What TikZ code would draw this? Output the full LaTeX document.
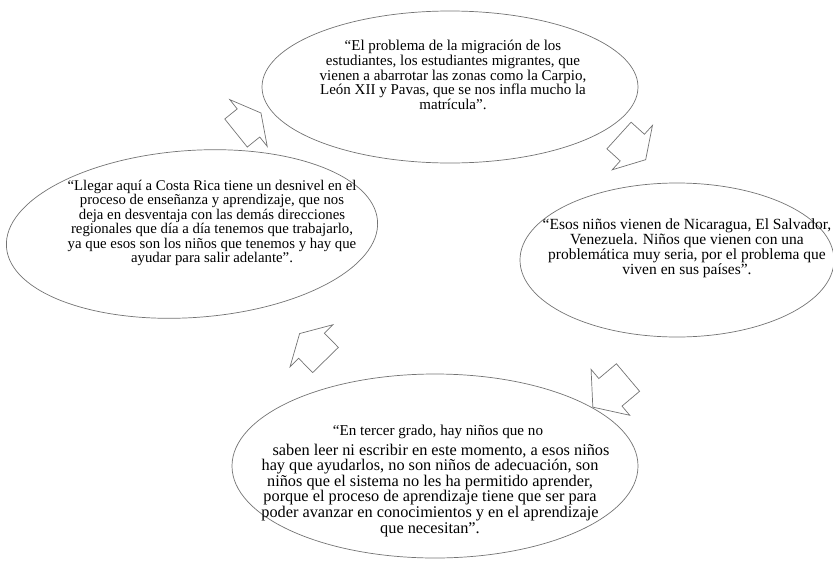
\documentclass[tikz,border=0pt]{standalone}
\usepackage{fontspec}
\setmainfont{Liberation Serif}
\usetikzlibrary{shapes.geometric}
\tikzset{
  bubble/.style={draw=black!55, line width=0.7pt, ellipse, inner sep=0pt},
  quote/.style={align=center, inner sep=0pt},
  blockline/.style={draw=black!55, line width=0.7pt, line join=miter}
}
% #1 x, #2 y (tail centre), #3 angle, #4 shaft length, #5 total length
\newcommand\blockarrow[5]{%
  \draw[blockline, shift={(#1,#2)}, rotate=#3]
    (0,-18) -- (#4,-18) -- (#4,-30) -- (#5,0) -- (#4,30) -- (#4,18) -- (0,18) -- cycle;}
\begin{document}
\begin{tikzpicture}[x=1pt,y=-1pt]
\useasboundingbox (0,0) rectangle (833,560);
% ellipses
\node[bubble, minimum width=376pt, minimum height=152pt] (etop) at (450,87) {};
\node[bubble, minimum width=372pt, minimum height=167pt, rotate=4] (eleft) at (192,234) {};
\node[bubble, minimum width=314pt, minimum height=154pt] (eright) at (677,260) {};
\node[bubble, minimum width=406pt, minimum height=184pt] (ebot) at (435,466) {};
% texts
\node[quote, font=\fontsize{15}{12.4}\selectfont] (ttop) at (453,75) {“El problema de la migración de los\\
estudiantes, los estudiantes migrantes, que\\
vienen a abarrotar las zonas como la Carpio,\\
León XII y Pavas, que se nos infla mucho la\\
matrícula”.};
\node[quote, font=\fontsize{14.8}{11.6}\selectfont] (tleft) at (212,223) {“Llegar aquí a Costa Rica tiene un desnivel en el\\
proceso de enseñanza y aprendizaje, que nos\\
deja en desventaja con las demás direcciones\\
regionales que día a día tenemos que trabajarlo,\\
ya que esos son los niños que tenemos y hay que\\
ayudar para salir adelante”.};
\node[quote, font=\fontsize{15.5}{12}\selectfont] (tright) at (687,248) {“Esos niños vienen de Nicaragua, El Salvador,\\
Venezuela. Niños que vienen con una\\
problemática muy seria, por el problema que\\
viven en sus países”.};
\node[quote, font=\fontsize{16.3}{11.8}\selectfont] (tbot) at (430,481) {\hspace*{16pt}{\fontsize{15.1}{11.8}\selectfont “En tercer grado, hay niños que no}\\[4pt]
\hspace*{22pt}saben leer ni escribir en este momento, a esos niños\\
hay que ayudarlos, no son niños de adecuación, son\\
niños que el sistema no les ha permitido aprender,\\
porque el proceso de aprendizaje tiene que ser para\\
poder avanzar en conocimientos y en el aprendizaje\\
que necesitan”.};
% block arrows
\blockarrow{236}{133}{38.7}{16}{32}
\blockarrow{619}{135.5}{-42.2}{18}{36}
\blockarrow{628}{377.5}{220.1}{23}{46}
\blockarrow{325.5}{360}{134.4}{20}{37}
\end{tikzpicture}
\end{document}
